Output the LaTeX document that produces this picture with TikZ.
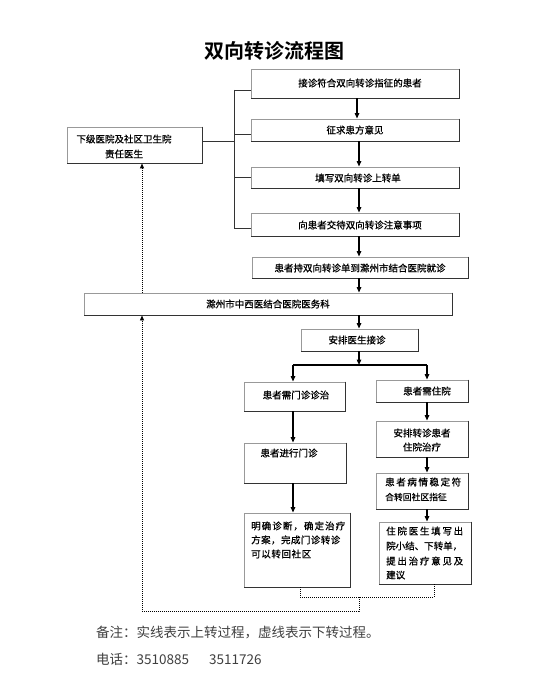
\documentclass[tikz,border=0pt]{standalone}
\usepackage{fontspec}
\setmainfont{Noto Sans CJK SC}[BoldFont={Noto Sans CJK SC Bold}]
\newfontfamily\boxfont{Noto Sans CJK SC}[FakeBold=0.8]
\usetikzlibrary{arrows.meta,fit}
\newcommand\mysp[2]{\makebox[#1][s]{#2}}
\begin{document}
\begin{tikzpicture}[x=1pt,y=-1pt,
  box/.style={draw=black!40, line width=0.9pt, inner sep=0pt},
  darkedge/.style={draw=black!80, line width=0.9pt},
  txt/.style={inner sep=0pt, font=\boxfont\fontsize{9.5}{11}\selectfont},
  arr/.style={draw=black, line width=1.3pt, -{Triangle[width=4.5pt,length=5.5pt]}},
  solidline/.style={draw=black, line width=1.3pt},
  thinline/.style={draw=black!80, line width=0.8pt},
  dots/.style={draw=black, line width=0.9pt, dash pattern=on 0.9pt off 1.1pt},
  dotarr/.style={dots, -{Triangle[width=4pt,length=5pt]}},
  note/.style={inner sep=0pt, anchor=west, text=black!75, font=\fontsize{13.5}{16}\selectfont}
]
\fill[white] (0,0) rectangle (553,700);
\useasboundingbox (0,0) rectangle (553,700);

% title
\node[inner sep=0pt, font=\fontsize{20}{24}\selectfont\bfseries] (title) at (274,51) {双向转诊流程图};

% boxes
\node[box, fit={(251,69)(459,98)}] (b1) {};
\node[box, fit={(251,119)(459,141)}] (b2) {};
\node[box, fit={(251,167)(459,188)}] (b3) {};
\node[box, fit={(251,213)(459,236)}] (b4) {};
\node[box, fit={(67,127)(202,163)}] (lb) {};
\node[box, fit={(252,257)(468,278)}] (b5) {};
\node[box, fit={(84,293)(452,315)}] (b6) {};
\node[box, fit={(301,329)(418,351)}] (b7) {};
\node[box, fit={(244,382)(345,411)}] (b8) {};
\node[box, fit={(376,380)(468,402)}] (b9) {};
\node[box, fit={(244,443)(346,483)}] (b10) {};
\node[box, fit={(244,513)(350,587)}] (b11) {};
\node[box, fit={(376,421)(468,457)}] (b12) {};
\node[box, fit={(376,473)(468,509)}] (b13) {};
\node[box, fit={(379,522)(471,584)}] (b14) {};
\foreach \n in {b1,b2,b3,b4,lb,b5,b6,b7,b8,b9,b10,b11,b12,b13,b14}
  \draw[darkedge] (\n.north east) -- (\n.south east) -- (\n.south west);

% texts
\node[txt] (t1) at (360,83) {接诊符合双向转诊指征的患者};
\node[txt] (t2) at (355,130) {征求患方意见};
\node[txt] (t3) at (358,178) {填写双向转诊上转单};
\node[txt] (t4) at (360,225) {向患者交待双向转诊注意事项};
\node[txt] (tl1) at (124,139) {下级医院及社区卫生院};
\node[txt] (tl2) at (124,154) {责任医生};
\node[txt] (t5) at (360,268) {患者持双向转诊单到滁州市结合医院就诊};
\node[txt] (t6) at (268,304) {滁州市中西医结合医院医务科};
\node[txt] (t7) at (357,340) {安排医生接诊};
\node[txt] (t8) at (296,395) {患者需门诊诊治};
\node[txt] (t9) at (427,391) {患者需住院};
\node[txt] (t10) at (289,453) {患者进行门诊};
\node[txt, anchor=west] (t11a) at (251,526) {\mysp{94pt}{明\hfil 确\hfil 诊\hfil 断\hfil ，\hfil 确\hfil 定\hfil 治\hfil 疗}};
\node[txt, anchor=west] (t11b) at (251,540) {\mysp{89pt}{方\hfil 案\hfil ，\hfil 完\hfil 成\hfil 门\hfil 诊\hfil 转\hfil 诊}};
\node[txt, anchor=west] (t11c) at (251,554) {\mysp{60pt}{可\hfil 以\hfil 转\hfil 回\hfil 社\hfil 区}};
\node[txt] (t12a) at (422,433) {安排转诊患者};
\node[txt] (t12b) at (422,447) {住院治疗};
\node[txt, anchor=west] (t13a) at (385,482) {\mysp{76pt}{患\hfil 者\hfil 病\hfil 情\hfil 稳\hfil 定\hfil 符}};
\node[txt, anchor=west, font=\boxfont\fontsize{8.8}{10}\selectfont] (t13b) at (385,497) {合转回社区指征};
\node[txt, anchor=west] (t14a) at (386,531) {\mysp{77pt}{住\hfil 院\hfil 医\hfil 生\hfil 填\hfil 写\hfil 出}};
\node[txt, anchor=west] (t14b) at (386,546) {\mysp{76pt}{院\hfil 小\hfil 结\hfil 、\hfil 下\hfil 转\hfil 单\hfil ，}};
\node[txt, anchor=west] (t14c) at (386,561) {\mysp{77pt}{提\hfil 出\hfil 治\hfil 疗\hfil 意\hfil 见\hfil 及}};
\node[txt, anchor=west] (t14d) at (386,575) {建议};

% bracket on the left of the top boxes
\coordinate (k1) at (234,90);
\coordinate (k2) at (234,134);
\coordinate (k3) at (234,177);
\coordinate (k4) at (234,228);
\coordinate (k0) at (234,141);
\draw[thinline] (k1) -- (k4);
\draw[thinline] (k1) -- (k1 -| b1.west);
\draw[thinline] (k2) -- (k2 -| b2.west);
\draw[thinline] (k3) -- (k3 -| b3.west);
\draw[thinline] (k4) -- (k4 -| b4.west);
\draw[thinline] (lb.east |- k0) -- (k0);

% solid arrows
\coordinate (ca) at (357,0);
\coordinate (cx) at (359,0);
\draw[arr] (b1.south -| ca) -- (b2.north -| ca);
\draw[arr] (b2.south -| cx) -- (b3.north -| cx);
\draw[arr] (b3.south -| cx) -- (b4.north -| cx);
\draw[arr] (b4.south -| cx) -- (b5.north -| cx);
\draw[arr] (b5.south -| cx) -- (b6.north -| cx);
\draw[arr] (b6.south -| cx) -- (b7.north -| cx);
\coordinate (br) at (359,365);
\coordinate (brL) at (293,365);
\coordinate (brR) at (427,365);
\draw[arr] (b7.south -| br) -- (br);
\draw[solidline] (brL) -- (brR);
\draw[arr] (brL) -- (b8.north -| brL);
\draw[arr] (brR) -- (b9.north -| brR);
\draw[arr] (b8.south -| brL) -- (b10.north -| brL);
\draw[arr] (b10.south -| brL) -- (b11.north -| brL);
\draw[arr] (b9.south -| brR) -- (b12.north -| brR);
\draw[arr] (b12.south -| brR) -- (b13.north -| brR);
\draw[arr] (b13.south -| brR) -- (b14.north -| brR);

% dotted return path
\coordinate (dA) at (300,597);
\coordinate (dB) at (434,597);
\coordinate (dM) at (359,597);
\coordinate (dC) at (359,611);
\coordinate (dD) at (142,611);
\draw[dots] (b11.south -| dA) -- (dA) -- (dB) -- (b14.south -| dB);
\draw[dotarr] (dM) -- (dC) -- (dD) -- (b6.south -| dD);
\draw[dotarr] (b6.north -| dD) -- (lb.south -| dD);

% notes
\node[note] (n1) at (96,632) {备注：实线表示上转过程，虚线表示下转过程。};
\node[note] (n2) at (96,659) {电话：3510885\hspace{20pt}3511726};
\end{tikzpicture}
\end{document}
